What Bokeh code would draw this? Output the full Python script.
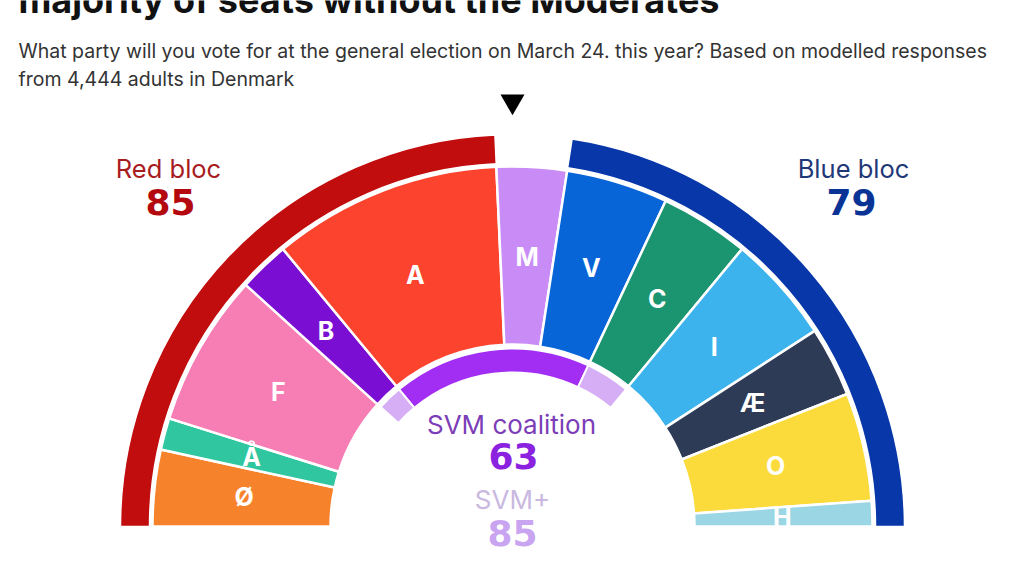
import numpy as np
from bokeh.plotting import figure
from bokeh.models import Range1d, Label, ColumnDataSource
from bokeh.core.properties import value
from bokeh.embed import file_html
from bokeh.resources import INLINE

# ---------------- data ----------------
title = "majority of seats without the Moderates"
subtitle = ["What party will you vote for at the general election on March 24. this year? Based on modelled responses",
            "from 4,444 adults in Denmark"]
parties = ["Ø", "Å", "F", "B", "A", "M", "V", "C", "I", "Æ", "O", "H"]
seats = [12, 5, 24, 8, 36, 11, 16, 14, 17, 11, 17, 4]
colors = ["#f7822c", "#2fc6a0", "#f77eb5", "#7a0fd3", "#fc432e", "#c98cf6",
          "#0765d8", "#1b9470", "#3cb3ec", "#2d3b56", "#fbdb3b", "#9bd6e4"]
red_bloc = ["Ø", "Å", "F", "B", "A"]
blue_bloc = ["V", "C", "I", "Æ", "O", "H"]
svm = ["A", "M", "V"]
svm_plus_extra = ["B", "C"]

FONT_NAME = "Inter"
NUM_FONT = "DejaVu Sans"
FONT = value(FONT_NAME)
# ---------------- geometry ----------------
W, H = 1008, 560
CX, CY = 512, 576 - 526          # centre of the half circle (data = page pixels, y up)
R_IN, R_OUT = 182, 360           # party ring
B_IN, B_OUT = 363, 392           # bloc ring
S_IN, S_OUT = 154, 178           # coalition ring
R_LAB = 270

total = sum(seats)
cum = np.concatenate([[0], np.cumsum(seats)])
start_seat = dict(zip(parties, cum[:-1]))
end_seat = dict(zip(parties, cum[1:]))


def ang(seat):
    return np.pi - np.pi * seat / total


p = figure(width=W, height=H, output_backend="svg", toolbar_location=None,
           x_range=Range1d(0, W), y_range=Range1d(576 - H, 576),
           min_border=0, outline_line_color=None)
p.axis.visible = False
p.grid.visible = False
p.background_fill_color = "white"
p.border_fill_color = "white"

# party ring
src = ColumnDataSource(dict(
    party=parties, color=colors,
    start=[ang(e) for e in cum[1:]], end=[ang(s) for s in cum[:-1]],
    lx=[CX + R_LAB * np.cos(ang((s + e) / 2)) for s, e in zip(cum[:-1], cum[1:])],
    ly=[CY + R_LAB * np.sin(ang((s + e) / 2)) for s, e in zip(cum[:-1], cum[1:])],
))
p.annular_wedge(x=CX, y=CY, inner_radius=R_IN, outer_radius=R_OUT,
                start_angle="start", end_angle="end", fill_color="color",
                line_color="white", line_width=2.5, source=src)
p.text(x="lx", y="ly", text="party", source=src, text_color="white",
       text_font=FONT, text_font_style="bold", text_font_size="25px",
       text_align="center", text_baseline="middle")

# bloc rings
for bloc, col in [(red_bloc, "#c10d0d"), (blue_bloc, "#0737a8")]:
    s0 = min(start_seat[q] for q in bloc)
    s1 = max(end_seat[q] for q in bloc)
    p.annular_wedge(x=CX, y=CY, inner_radius=B_IN, outer_radius=B_OUT,
                    start_angle=ang(s1), end_angle=ang(s0), fill_color=col,
                    line_color="white", line_width=1.5)

# coalition ring
s0 = min(start_seat[q] for q in svm)
s1 = max(end_seat[q] for q in svm)
p.annular_wedge(x=CX, y=CY, inner_radius=S_IN, outer_radius=S_OUT,
                start_angle=ang(s1), end_angle=ang(s0), fill_color="#a22ef3",
                line_color="white", line_width=2)
for q in svm_plus_extra:
    p.annular_wedge(x=CX, y=CY, inner_radius=S_IN, outer_radius=S_OUT,
                    start_angle=ang(end_seat[q]), end_angle=ang(start_seat[q]),
                    fill_color="#d6aef6", line_color="white", line_width=2)

# white mask below the baseline
p.quad(left=0, right=W, bottom=0, top=CY, fill_color="white", line_color=None)

# majority marker
p.scatter(x=[CX], y=[CY + 425], marker="inverted_triangle", size=24,
          fill_color="black", line_color=None)

# bloc totals
red_total = sum(seats[parties.index(q)] for q in red_bloc)
blue_total = sum(seats[parties.index(q)] for q in blue_bloc)
svm_total = sum(seats[parties.index(q)] for q in svm)
svm_plus_total = svm_total + sum(seats[parties.index(q)] for q in svm_plus_extra)


def lab(x, y_page, text, color, size, bold=False):
    p.add_layout(Label(x=x, y=576 - y_page, text=text, text_color=color,
                       text_font=NUM_FONT if bold else FONT_NAME, text_font_size=size,
                       text_font_style="bold" if bold else "normal",
                       text_align="center", text_baseline="middle"))


lab(168, 168, "Red bloc", "#a81b1f", "25.5px")
lab(170, 201, str(red_total), "#b3080d", "36px", True)
lab(853, 168, "Blue bloc", "#1f3878", "25.5px")
lab(851, 201, str(blue_total), "#0a3396", "36px", True)
lab(511, 424, "SVM coalition", "#7c3db8", "26px")
lab(513, 455, str(svm_total), "#8a22df", "36px", True)
lab(512, 499, "SVM+", "#c9b8df", "26px")
lab(512, 532, str(svm_plus_total), "#c9a4f1", "36px", True)

# title (cropped at the top edge, as in the reference) and subtitle
p.text(x=[18], y=[576 - 21], text=[title], text_color="#111111",
       text_font=FONT, text_font_size="36px", text_font_style="bold",
       text_align="left", text_baseline="bottom")
for i, line in enumerate(subtitle):
    p.add_layout(Label(x=18, y=576 - (50 + 28 * i), text=line, text_color="#333333",
                       text_font=FONT_NAME, text_font_size="19.5px",
                       text_align="left", text_baseline="middle"))

open("out.html", "w").write(file_html(p, INLINE))
